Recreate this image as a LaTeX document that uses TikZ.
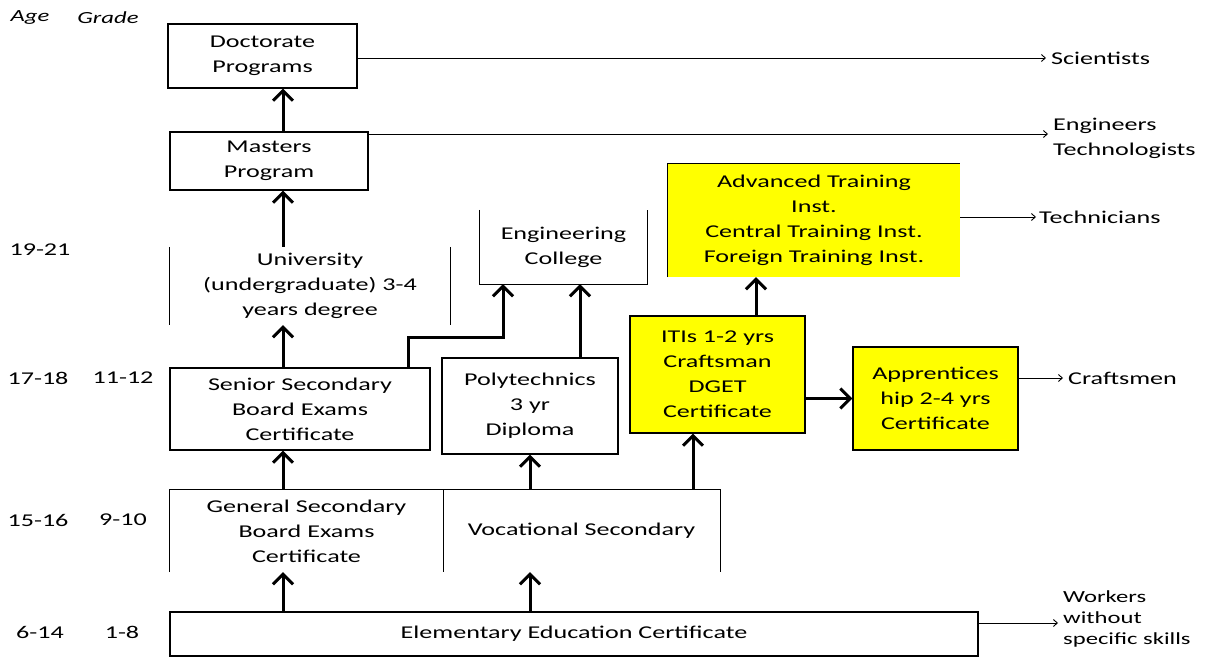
\documentclass[tikz,border=0pt]{standalone}
\usepackage{fontspec}
\setmainfont{Carlito}[FakeStretch=1.45]
\usetikzlibrary{arrows.meta}
\definecolor{Lemon}{HTML}{FFFF00}

\begin{document}
\begin{tikzpicture}[x=1pt,y=-1pt,font=\fontsize{18}{25}\selectfont,
  box/.style={draw,line width=1.1pt,align=center,inner sep=0pt},
  bare/.style={align=center,inner sep=0pt},
  up/.style={line width=3pt,-{Straight Barb[length=10pt,width=20pt]}},
  exitarr/.style={line width=0.9pt,-{Straight Barb[length=4pt,width=7pt]}},
  dest/.style={anchor=west,align=left,inner sep=0pt},
  agelbl/.style={inner sep=0pt}]
\useasboundingbox (0,0) rectangle (1208,660);
% columns of the upward arrows
\coordinate (colU) at (283,0);
\coordinate (colE) at (408,0);
\coordinate (colC) at (503,338);
\coordinate (colP) at (580,0);
\coordinate (colV) at (530,0);
\coordinate (colI) at (756,0);
\coordinate (colT) at (693,0);
% age / grade column
\node[agelbl,font=\fontsize{17}{20}\selectfont\itshape] (hAge) at (30,18) {Age};
\node[agelbl,font=\fontsize{17}{20}\selectfont\itshape] (hGrade) at (108,18) {Grade};
\node[agelbl] (a1) at (40,250) {19-21};
\node[agelbl] (a2) at (38,378) {17-18};
\node[agelbl] (g2) at (123,378) {11-12};
\node[agelbl] (a3) at (38,520) {15-16};
\node[agelbl] (g3) at (123,520) {9-10};
\node[agelbl] (a4) at (40,632) {6-14};
\node[agelbl] (g4) at (122,632) {1-8};
% boxes
\node[box,minimum width=189pt,minimum height=64pt] (doc) at (262.5,56) {Doctorate\\Programs};
\node[box,minimum width=198pt,minimum height=58pt] (mast) at (269,161) {Masters\\Program};
\node[bare,minimum width=280pt,minimum height=78pt] (univ) at (310,286) {University\\(undergraduate) 3-4\\years degree};
\node[bare,minimum width=167pt,minimum height=74pt] (eng) at (563.5,247) {Engineering\\College};
\node[bare,fill=Lemon,minimum width=292pt,minimum height=113pt] (adv) at (814,220.5)
  {Advanced Training\\Inst.\\Central Training Inst.\\Foreign Training Inst.};
\node[box,minimum width=260pt,minimum height=82pt] (sen) at (300,409) {Senior Secondary\\Board Exams\\Certificate};
\node[box,minimum width=176pt,minimum height=96pt] (poly) at (530,406) {Polytechnics\\3 yr\\Diploma};
\node[box,fill=Lemon,minimum width=175pt,minimum height=117pt] (iti) at (717.5,374.5)
  {ITIs 1-2 yrs\\Craftsman\\DGET\\Certificate};
\node[box,fill=Lemon,minimum width=165pt,minimum height=103pt] (app) at (935.5,398.5)
  {Apprentices\\hip 2-4 yrs\\Certificate};
\node[bare,minimum width=273pt,minimum height=82pt] (gen) at (306.5,531) {General Secondary\\Board Exams\\Certificate};
\node[bare,minimum width=277pt,minimum height=82pt] (voc) at (581.5,531) {Vocational Secondary};
\node[box,minimum width=808pt,minimum height=44pt] (elem) at (574,634) {Elementary Education Certificate};
% open sides
\draw[line width=1.1pt] (univ.north west) -- (univ.south west) (univ.north east) -- (univ.south east);
\draw[line width=1.1pt] (eng.north west) -- (eng.south west) -- (eng.south east) -- (eng.north east);
\draw[line width=1.1pt] (adv.south west) -- (adv.north west) -- (adv.north east);
\draw[line width=1.1pt] (gen.south west) -- (gen.north west) -- (voc.north east) -- (voc.south east)
  (gen.north east) -- (gen.south east);
% destinations
\coordinate (eSci) at (1046,58);
\coordinate (eEng) at (1048,134);
\coordinate (eTec) at (1036,217);
\coordinate (eCra) at (1063,378);
\coordinate (eWor) at (1058,623);
\node[dest] (sci) at ([xshift=5pt]eSci) {Scientists};
\node[dest] (engr) at ([xshift=5pt,yshift=-4pt]eEng) {Engineers\\Technologists};
\node[dest] (tec) at ([xshift=3pt]eTec) {Technicians};
\node[dest] (cra) at ([xshift=5pt]eCra) {Craftsmen};
\node[dest,font=\fontsize{17}{21}\selectfont] (wor) at ([xshift=5pt,yshift=4pt]eWor) {Workers\\without\\specific skills};
\draw[exitarr] (doc.east |- eSci) -- (eSci);
\draw[exitarr] (mast.north east |- eEng) -- (eEng);
\draw[exitarr] (adv.east |- eTec) -- (eTec);
\draw[exitarr] (app.east |- eCra) -- (eCra);
\draw[exitarr] (elem.east |- eWor) -- (eWor);
% upward paths
\draw[up] (mast.north -| colU) -- (doc.south -| colU);
\draw[up] (univ.north -| colU) -- (mast.south -| colU);
\draw[up] (sen.north -| colU) -- (univ.south -| colU);
\draw[up] (sen.north -| colE) |- (colC) -- (eng.south -| colC);
\draw[up] (poly.north -| colP) -- (eng.south -| colP);
\draw[up] (iti.north -| colI) -- (adv.south -| colI);
\draw[up] (iti.east |- app.west) -- (app.west);
\draw[up] (gen.north -| colU) -- (sen.south -| colU);
\draw[up] (voc.north -| colV) -- (poly.south -| colV);
\draw[up] (voc.north -| colT) -- (iti.south -| colT);
\draw[up] (elem.north -| colU) -- (gen.south -| colU);
\draw[up] (elem.north -| colV) -- (voc.south -| colV);
\end{tikzpicture}
\end{document}
